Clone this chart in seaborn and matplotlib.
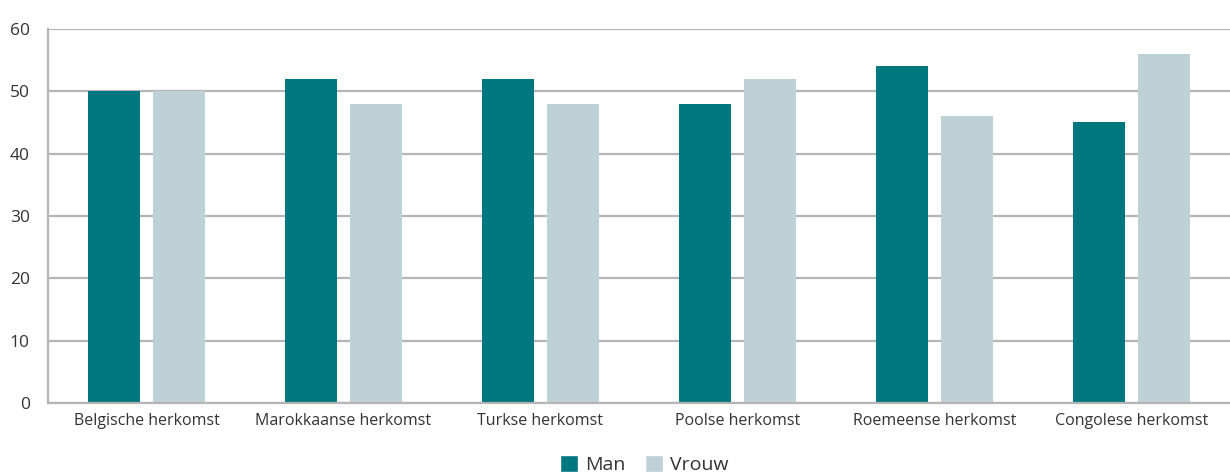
import pandas as pd
import matplotlib
matplotlib.use("Agg")
import matplotlib.pyplot as plt
from matplotlib.patches import Patch
import seaborn as sns

sns.set_style("white")
plt.rcParams['font.family'] = ['Open Sans', 'DejaVu Sans']

categories = ["Belgische herkomst", "Marokkaanse herkomst", "Turkse herkomst",
              "Poolse herkomst", "Roemeense herkomst", "Congolese herkomst"]
man = [50, 52, 52, 48, 54, 45]
vrouw = [50, 48, 48, 52, 46, 56]
series = ["Man", "Vrouw"]
colors = {"Man": "#00767f", "Vrouw": "#bdd1d7"}

df = pd.DataFrame({
    "herkomst": categories * 2,
    "geslacht": ["Man"] * len(categories) + ["Vrouw"] * len(categories),
    "waarde": man + vrouw,
})

fig = plt.figure(figsize=(12.3, 4.75), dpi=100)
ax = fig.add_axes([0.039, 0.1516, 0.961, 0.7874])

sns.barplot(data=df, x="herkomst", y="waarde", hue="geslacht", order=categories,
            hue_order=series, palette=colors, width=0.66, gap=0.2,
            saturation=1, legend=False, linewidth=0, ax=ax)

grid_c = "#b5b5b5"
ax.set_ylim(0, 60)
ax.set_xlim(-0.5, len(categories) - 0.5)
ax.set_yticks(range(0, 61, 10))
ax.yaxis.grid(True, color=grid_c, linewidth=1.6)
ax.set_axisbelow(True)
for s in ["top", "right"]:
    ax.spines[s].set_visible(False)
for s in ["left", "bottom"]:
    ax.spines[s].set_color(grid_c)
    ax.spines[s].set_linewidth(1.6)

# small separator ticks between categories
ax.set_xticks([i + 0.5 for i in range(len(categories) - 1)], minor=True)
ax.tick_params(axis="x", which="minor", direction="in", length=9, color=grid_c, width=1)
ax.tick_params(axis="x", which="major", length=0, pad=7, labelsize=11.5, labelcolor="#333333")
ax.tick_params(axis="y", length=0, pad=13, labelsize=12.5, labelcolor="#333333")
ax.set_xlabel("")
ax.set_ylabel("")

handles = [Patch(facecolor=colors[s], label=s) for s in series]
fig.legend(handles=handles, loc="lower center", bbox_to_anchor=(0.524, -0.035), ncol=2,
           frameon=False, fontsize=14, handlelength=0.9, handleheight=1.0,
           handletextpad=0.4, columnspacing=1.0, labelcolor="#333333")

fig.savefig("out.png", dpi=100)
